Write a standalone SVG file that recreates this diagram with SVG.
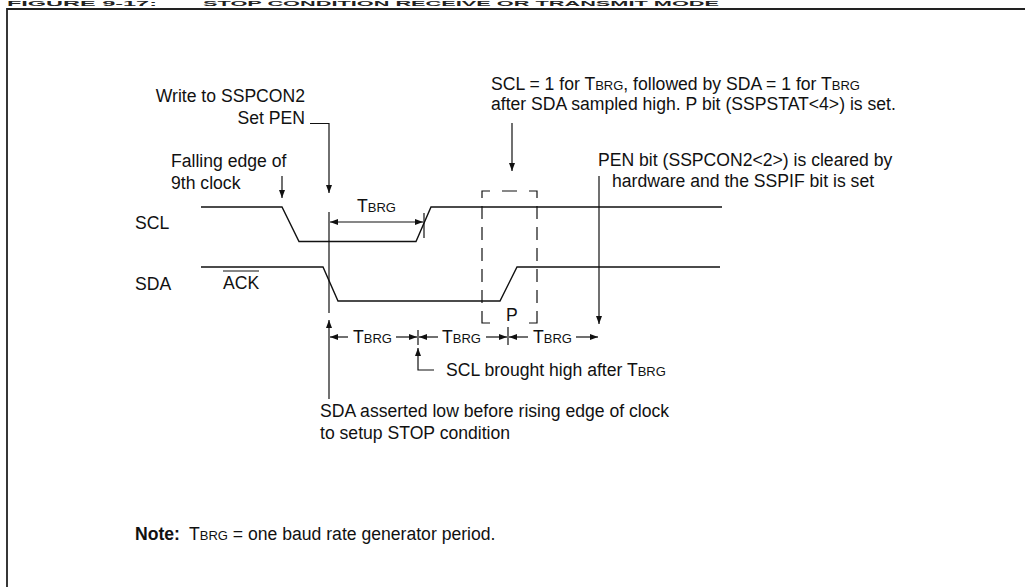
<svg xmlns="http://www.w3.org/2000/svg" width="1025" height="587" viewBox="0 0 1025 587">
<defs>
<marker id="ah" markerUnits="userSpaceOnUse" markerWidth="9" markerHeight="7" refX="8" refY="3" orient="auto"><path d="M0,0 L8,3 L0,6 z" fill="#111"/></marker>
<style>
.t{font-family:"Liberation Sans",Arial,sans-serif;font-size:17.6px;fill:#111}
.s{font-size:13px}
.b{font-weight:bold}
.h{font-family:"Liberation Sans",Arial,sans-serif;font-size:7px;font-weight:bold;fill:#222}
.w{fill:none;stroke:#111;stroke-width:1.4}
.c{fill:none;stroke:#111;stroke-width:1.2}
.a{fill:none;stroke:#111;stroke-width:1.2;marker-end:url(#ah)}
.d{fill:none;stroke:#111;stroke-width:1.2;stroke-dasharray:13 8}
</style>
</defs>
<rect width="1025" height="587" fill="#fff"/>
<g id="frame">
<text class="h" x="7" y="5.5" textLength="150" lengthAdjust="spacingAndGlyphs">FIGURE 9-17:</text>
<text class="h" x="203" y="5.5" textLength="516" lengthAdjust="spacingAndGlyphs">STOP CONDITION RECEIVE OR TRANSMIT MODE</text>
<path d="M7,587 V9 H1025" fill="none" stroke="#222" stroke-width="1.8"/>
</g>
<g id="signal-labels">
<text class="t" x="135" y="229">SCL</text>
<text class="t" x="135" y="290">SDA</text>
</g>
<g id="scl">
<path class="w" d="M201,207 H282 L299,241.5 H416 L431,207 H722"/>
</g>
<g id="sda">
<path class="w" d="M201,267 H323 L338,301 H500 L517,267 H720"/>
<text class="t" x="223" y="289">ACK</text>
<path class="c" d="M223,271 H259"/>
</g>
<g id="stop-window">
<path class="c" d="M482,198 V191 H490 M502,191 H517 M529,191 H537 V198"/>
<path class="d" d="M482,206 V316 M537,206 V316"/>
<path class="c" d="M482,316 V323 H490 M529,323 H537 V316"/>
<text class="t" x="506" y="321">P</text>
</g>
<g id="annotations">
<text class="t" x="305" y="102" text-anchor="end">Write to SSPCON2</text>
<text class="t" x="305" y="124" text-anchor="end">Set PEN</text>
<text class="t" x="171" y="167">Falling edge of</text>
<text class="t" x="171" y="189">9th clock</text>
<text class="t" x="491" y="90">SCL = 1 for T<tspan class="s">BRG</tspan>, followed by SDA = 1 for T<tspan class="s">BRG</tspan></text>
<text class="t" x="491" y="110">after SDA sampled high. P bit (SSPSTAT&lt;4&gt;) is set.</text>
<text class="t" x="598" y="166">PEN bit (SSPCON2&lt;2&gt;) is cleared by</text>
<text class="t" x="612" y="187">hardware and the SSPIF bit is set</text>
<text class="t" x="357" y="212">T<tspan class="s">BRG</tspan></text>
<text class="t" x="446" y="376">SCL brought high after T<tspan class="s">BRG</tspan></text>
<text class="t" x="320" y="417">SDA asserted low before rising edge of clock</text>
<text class="t" x="320" y="439">to setup STOP condition</text>
</g>
<g id="timing">
<text class="t" x="353" y="343">T<tspan class="s">BRG</tspan></text>
<text class="t" x="442" y="343">T<tspan class="s">BRG</tspan></text>
<text class="t" x="533" y="343">T<tspan class="s">BRG</tspan></text>
</g>
<g id="connectors">
<path class="a" d="M310,123.5 H329 V193"/>
<path class="a" d="M282,176 V198"/>
<path class="c" d="M329,212 V313"/>
<path class="a" d="M376,222 H330"/>
<path class="a" d="M376,222 H423"/>
<path class="c" d="M424,213 V238"/>
<path class="a" d="M512,123 V171"/>
<path class="a" d="M599,176 V324"/>
<path class="a" d="M329,399 V320"/>
<path class="a" d="M348,337 H330"/>
<path class="a" d="M396,337 H417"/>
<path class="c" d="M418,330 V345"/>
<path class="a" d="M438,337 H419"/>
<path class="a" d="M486,337 H507"/>
<path class="c" d="M508,327 V345"/>
<path class="a" d="M528,337 H509"/>
<path class="a" d="M576,337 H598"/>
<path class="a" d="M434,370 H418 V348"/>
</g>
<g id="note">
<text class="t b" x="135" y="540">Note:</text>
<text class="t" x="189" y="540">T<tspan class="s">BRG</tspan> = one baud rate generator period.</text>
</g>
</svg>
